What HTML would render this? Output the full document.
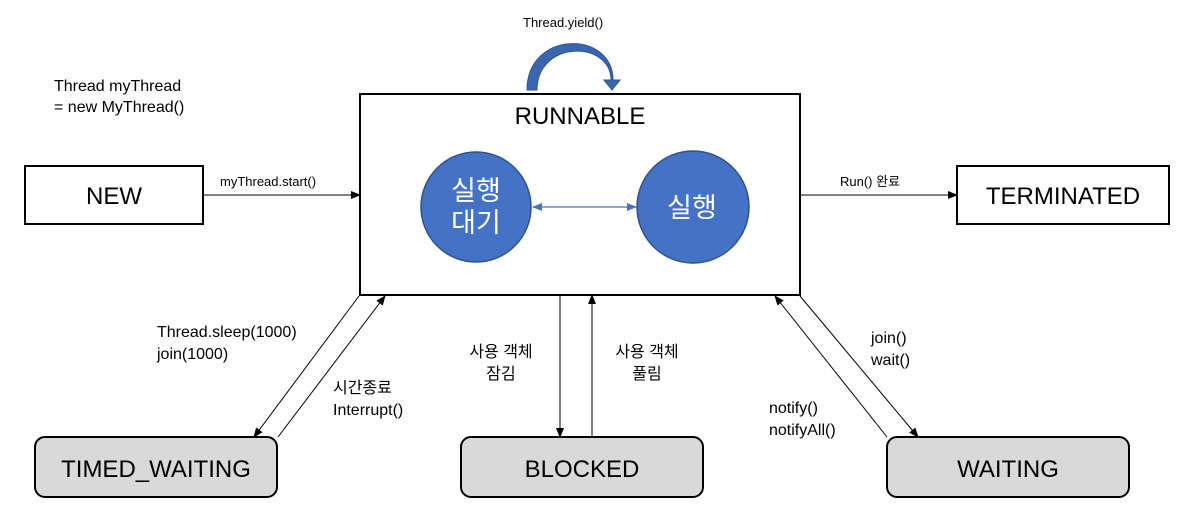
<!DOCTYPE html>
<html><head><meta charset="utf-8"><style>
body{margin:0;background:#fff}
svg text{font-family:"Liberation Sans","Noto Sans CJK KR",sans-serif}
</style></head><body>
<svg width="1197" height="524" viewBox="0 0 1197 524" xmlns="http://www.w3.org/2000/svg">
<defs>
<marker id="a" markerWidth="10" markerHeight="10" refX="9" refY="5" orient="auto" markerUnits="userSpaceOnUse"><path d="M0,1 L10,5 L0,9 z" fill="#000"/></marker>
<marker id="b" markerWidth="10" markerHeight="10" refX="9" refY="5" orient="auto-start-reverse" markerUnits="userSpaceOnUse"><path d="M0,1 L10,5 L0,9 z" fill="#4472c4"/></marker>
</defs>
<text x="54" y="91" font-size="16">Thread myThread</text>
<text x="54" y="112" font-size="16">= new MyThread()</text>
<text x="523" y="27" font-size="13">Thread.yield()</text>
<path d="M527,90 C527,30 613,30 613,80 L620,80 L612,90 L604,80 L611,80 C611,40 537,40 537,90 Z" fill="#3a66b0" stroke="#2f528f" stroke-width="1"/>
<rect x="360" y="94" width="440" height="201" fill="#fff" stroke="#000" stroke-width="2"/>
<text x="580" y="124" font-size="24" text-anchor="middle">RUNNABLE</text>
<circle cx="476" cy="207" r="55" fill="#4472c4" stroke="#2f528f" stroke-width="1.5"/>
<circle cx="693" cy="207" r="56" fill="#4472c4" stroke="#2f528f" stroke-width="1.5"/>
<text x="476" y="200" font-size="27" fill="#fff" text-anchor="middle">실행</text>
<text x="476" y="232" font-size="27" fill="#fff" text-anchor="middle">대기</text>
<text x="692" y="217" font-size="27" fill="#fff" text-anchor="middle">실행</text>
<line x1="533" y1="207" x2="636" y2="207" stroke="#4472c4" stroke-width="1.2" marker-start="url(#b)" marker-end="url(#b)"/>
<rect x="25" y="166" width="178" height="58" fill="#fff" stroke="#000" stroke-width="2"/>
<text x="114" y="204" font-size="24" text-anchor="middle">NEW</text>
<rect x="957" y="166" width="212" height="58" fill="#fff" stroke="#000" stroke-width="2"/>
<text x="1063" y="204" font-size="24" text-anchor="middle">TERMINATED</text>
<line x1="203" y1="195" x2="360" y2="195" stroke="#000" marker-end="url(#a)"/>
<text x="220" y="186" font-size="13">myThread.start()</text>
<line x1="800" y1="195" x2="957" y2="195" stroke="#000" marker-end="url(#a)"/>
<text x="840" y="186" font-size="13">Run() 완료</text>
<rect x="35" y="437" width="242" height="60" rx="10" fill="#d9d9d9" stroke="#000" stroke-width="2"/>
<text x="156" y="477" font-size="24" text-anchor="middle">TIMED_WAITING</text>
<rect x="461" y="437" width="242" height="60" rx="10" fill="#d9d9d9" stroke="#000" stroke-width="2"/>
<text x="582" y="477" font-size="24" text-anchor="middle">BLOCKED</text>
<rect x="887" y="437" width="242" height="60" rx="10" fill="#d9d9d9" stroke="#000" stroke-width="2"/>
<text x="1008" y="477" font-size="24" text-anchor="middle">WAITING</text>
<line x1="359" y1="296" x2="254" y2="437" stroke="#000" marker-end="url(#a)"/>
<line x1="278" y1="437" x2="385" y2="296" stroke="#000" marker-end="url(#a)"/>
<line x1="560" y1="295" x2="560" y2="437" stroke="#000" marker-end="url(#a)"/>
<line x1="592" y1="437" x2="592" y2="295" stroke="#000" marker-end="url(#a)"/>
<line x1="800" y1="296" x2="918" y2="437" stroke="#000" marker-end="url(#a)"/>
<line x1="887" y1="437" x2="775" y2="296" stroke="#000" marker-end="url(#a)"/>
<text x="157" y="337" font-size="16">Thread.sleep(1000)</text>
<text x="157" y="359" font-size="16">join(1000)</text>
<text x="333" y="393" font-size="16">시간종료</text>
<text x="333" y="415" font-size="16">Interrupt()</text>
<text x="501" y="357" font-size="16" text-anchor="middle">사용 객체</text>
<text x="501" y="379" font-size="16" text-anchor="middle">잠김</text>
<text x="647" y="357" font-size="16" text-anchor="middle">사용 객체</text>
<text x="647" y="379" font-size="16" text-anchor="middle">풀림</text>
<text x="871" y="343" font-size="16">join()</text>
<text x="871" y="365" font-size="16">wait()</text>
<text x="769" y="413" font-size="16">notify()</text>
<text x="769" y="435" font-size="16">notifyAll()</text>
</svg>
</body></html>
